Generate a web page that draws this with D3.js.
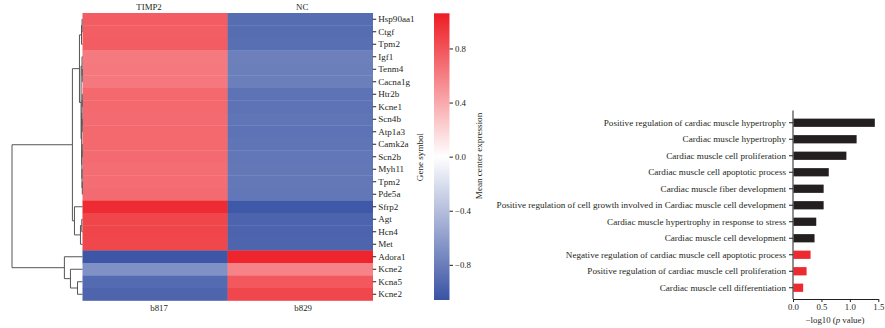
<!DOCTYPE html>
<html><head><meta charset="utf-8">
<script src="https://cdn.jsdelivr.net/npm/d3@7"></script>
<style>
body{margin:0;background:#fff;}
svg{display:block;}
text{font-family:"Liberation Serif","DejaVu Serif",serif;fill:#231f20;}
</style>
</head><body>
<svg id="c" width="885" height="328"></svg>
<script>
// ---------------- DATA ----------------
const genes = ["Hsp90aa1","Ctgf","Tpm2","Igf1","Tenm4","Cacna1g","Htr2b","Kcne1","Scn4b","Atp1a3",
  "Camk2a","Scn2b","Myh11","Tpm2","Pde5a","Sfrp2","Agt","Hcn4","Met","Adora1","Kcne2","Kcna5","Kcne2"];
const samples = ["TIMP2","NC"];
const sampleIds = ["b817","b829"];
const timp2 = [0.76,0.75,0.76,0.62,0.63,0.63,0.70,0.70,0.69,0.70,0.70,0.69,0.68,0.68,0.69,0.99,0.87,0.87,0.86,-1.04,-0.68,-0.91,-0.95];
const nc    = [-0.90,-0.90,-0.89,-0.78,-0.79,-0.79,-0.86,-0.86,-0.85,-0.86,-0.85,-0.84,-0.83,-0.83,-0.84,-1.03,-0.96,-0.96,-0.95,1.02,0.58,0.78,0.86];
const colorTicks = [0.8,0.4,0.0,-0.4,-0.8];
const terms = ["Positive regulation of cardiac muscle hypertrophy","Cardiac muscle hypertrophy",
  "Cardiac muscle cell proliferation","Cardiac muscle cell apoptotic process","Cardiac muscle fiber development",
  "Positive regulation of cell growth involved in Cardiac muscle cell development",
  "Cardiac muscle hypertrophy in response to stress","Cardiac muscle cell development",
  "Negative regulation of cardiac muscle cell apoptotic process","Positive regulation of cardiac muscle cell proliferation",
  "Cardiac muscle cell differentiation"];
const termValues = [1.43,1.11,0.93,0.62,0.53,0.53,0.40,0.37,0.30,0.23,0.17];
const termHighlight = [false,false,false,false,false,false,false,false,true,true,true];
const xTicks = [0,0.5,1.0,1.5];
// dendrogram (leaves = row indices, h = merge height)
const dendro = {h:1.0, c:[
  {h:0.143, c:[
    {h:0.043, c:[
      {h:0.014, c:[{h:0.006,c:[0,1]},2]},
      {h:0.020, c:[
        {h:0.007, c:[3,{h:0.004,c:[4,5]}]},
        {h:0.012, c:[
          {h:0.008, c:[{h:0.004,c:[6,7]},{h:0.005,c:[8,9]}]},
          {h:0.009, c:[{h:0.005,c:[10,11]},{h:0.007,c:[12,{h:0.003,c:[13,14]}]}]}
        ]}
      ]}
    ]},
    {h:0.114, c:[15,{h:0.029,c:[{h:0.010,c:[16,17]},18]}]}
  ]},
  {h:0.257, c:[19,{h:0.171,c:[20,{h:0.071,c:[21,22]}]}]}
]};

// ---------------- DRAW ----------------
const svg = d3.select("#c");
const ink = "#231f20";

// heatmap
const x = d3.scaleBand().domain(samples).range([82.5,372.7]);
const y = d3.scaleBand().domain(d3.range(genes.length)).range([13,300.5]);
const color = d3.scaleLinear().domain([-1.06,0,1.06]).range(["#3953a4","#ffffff","#ed1c24"]);

const cells = [];
genes.forEach((g,i)=>{ cells.push({s:"TIMP2",i,v:timp2[i]}); cells.push({s:"NC",i,v:nc[i]}); });
svg.append("g").selectAll("rect").data(cells).join("rect")
  .attr("x",d=>x(d.s)).attr("y",d=>y(d.i))
  .attr("width",x.bandwidth()+0.3).attr("height",y.bandwidth()+0.3)
  .attr("fill",d=>color(d.v));

// column labels
svg.append("g").selectAll("text").data(samples).join("text")
  .attr("x",(d,i)=>x(d)+x.bandwidth()/2+(i===0?-6:2)).attr("y",10).attr("text-anchor","middle")
  .attr("font-size",8.8).text(d=>d);
svg.append("g").selectAll("text").data(sampleIds).join("text")
  .attr("x",(d,i)=>x(samples[i])+x.bandwidth()/2+(i===0?4:3)).attr("y",311).attr("text-anchor","middle")
  .attr("font-size",8.8).text(d=>d);

// gene axis
const gAxis = svg.append("g").attr("transform","translate(372.7,0)")
  .call(d3.axisRight(y).tickSize(3.5).tickPadding(2).tickFormat(i=>genes[i]));
gAxis.select(".domain").remove();
gAxis.selectAll("line").attr("stroke",ink);
gAxis.selectAll("text").attr("font-size",9.1).attr("font-family","Liberation Serif, serif").attr("fill",ink);

svg.append("text").attr("transform","translate(423,157) rotate(-90)")
  .attr("text-anchor","middle").attr("font-size",9.1).text("Gene symbol");

// dendrogram
const hx = d3.scaleLinear().domain([0,1]).range([82.5,12]);
const dg = svg.append("g").attr("fill","none").attr("stroke","#555").attr("stroke-width",1);
function layout(n){
  if (typeof n === "number") return {y:y(n)+y.bandwidth()/2, h:0};
  const kids = n.c.map(layout);
  const yy = d3.mean(kids,k=>k.y);
  dg.append("line").attr("x1",hx(n.h)).attr("x2",hx(n.h))
    .attr("y1",kids[0].y).attr("y2",kids[1].y);
  kids.forEach(k=>{
    dg.append("line").attr("x1",hx(n.h)).attr("x2",hx(k.h)).attr("y1",k.y).attr("y2",k.y);
  });
  return {y:yy, h:n.h};
}
layout(dendro);

// colorbar
const cbTop=13.3, cbBot=300, cbX=434, cbW=15.5;
const cy = d3.scaleLinear().domain([-1.06,1.06]).range([cbBot,cbTop]);
const defs = svg.append("defs");
const grad = defs.append("linearGradient").attr("id","cb").attr("x1",0).attr("y1",1).attr("x2",0).attr("y2",0);
d3.range(0,1.0001,0.05).forEach(t=>{
  const v = -1.06 + 2.12*t;
  grad.append("stop").attr("offset",t).attr("stop-color",color(v));
});
svg.append("rect").attr("x",cbX).attr("y",cbTop).attr("width",cbW).attr("height",cbBot-cbTop).attr("fill","url(#cb)");
const cAxis = svg.append("g").attr("transform",`translate(${cbX+cbW},0)`)
  .call(d3.axisRight(cy).tickValues(colorTicks).tickSize(3.5).tickPadding(2)
    .tickFormat(d=>d3.format(".1f")(d).replace("-","\u2212")));
cAxis.select(".domain").remove();
cAxis.selectAll("line").attr("stroke",ink);
cAxis.selectAll("text").attr("font-size",8.8).attr("font-family","Liberation Serif, serif").attr("fill",ink);
svg.append("text").attr("transform","translate(482,156) rotate(-90)")
  .attr("text-anchor","middle").attr("font-size",9.1).text("Mean center expression");

// bar chart
const bx = d3.scaleLinear().domain([0,1.5]).range([793,878.3]);
const by = d3.scaleBand().domain(d3.range(terms.length)).range([114.5,296]).paddingInner(0.5).paddingOuter(0.25);
svg.append("g").selectAll("rect").data(termValues).join("rect")
  .attr("x",bx(0)+0.5).attr("y",(d,i)=>by(i)).attr("width",d=>bx(d)-bx(0))
  .attr("height",by.bandwidth()).attr("fill",(d,i)=>termHighlight[i]?"#ed2a30":ink);

const yAx = svg.append("g").attr("transform","translate(793,0)")
  .call(d3.axisLeft(by).tickSize(4).tickPadding(3).tickFormat(i=>terms[i]));
yAx.select(".domain").attr("d","M0,110.5V299").attr("stroke",ink);
yAx.selectAll("line").attr("stroke",ink);
yAx.selectAll("text").attr("font-size",9.15).attr("font-family","Liberation Serif, serif")
  .attr("fill",(i)=>termHighlight[i]?"#ec3a40":ink);

const xAx = svg.append("g").attr("transform","translate(0,299)")
  .call(d3.axisBottom(bx).tickValues(xTicks).tickSize(3).tickPadding(2).tickSizeOuter(0).tickFormat(d3.format(".1f")));
xAx.select(".domain").attr("stroke",ink);
xAx.selectAll("line").attr("stroke",ink);
xAx.selectAll("text").attr("font-size",8.8).attr("font-family","Liberation Serif, serif").attr("fill",ink);
const xt = svg.append("text").attr("x",835).attr("y",322.5).attr("text-anchor","middle").attr("font-size",8.8);
xt.append("tspan").text("\u2212log10 (");
xt.append("tspan").attr("font-style","italic").text("p");
xt.append("tspan").text(" value)");
</script>
</body></html>
